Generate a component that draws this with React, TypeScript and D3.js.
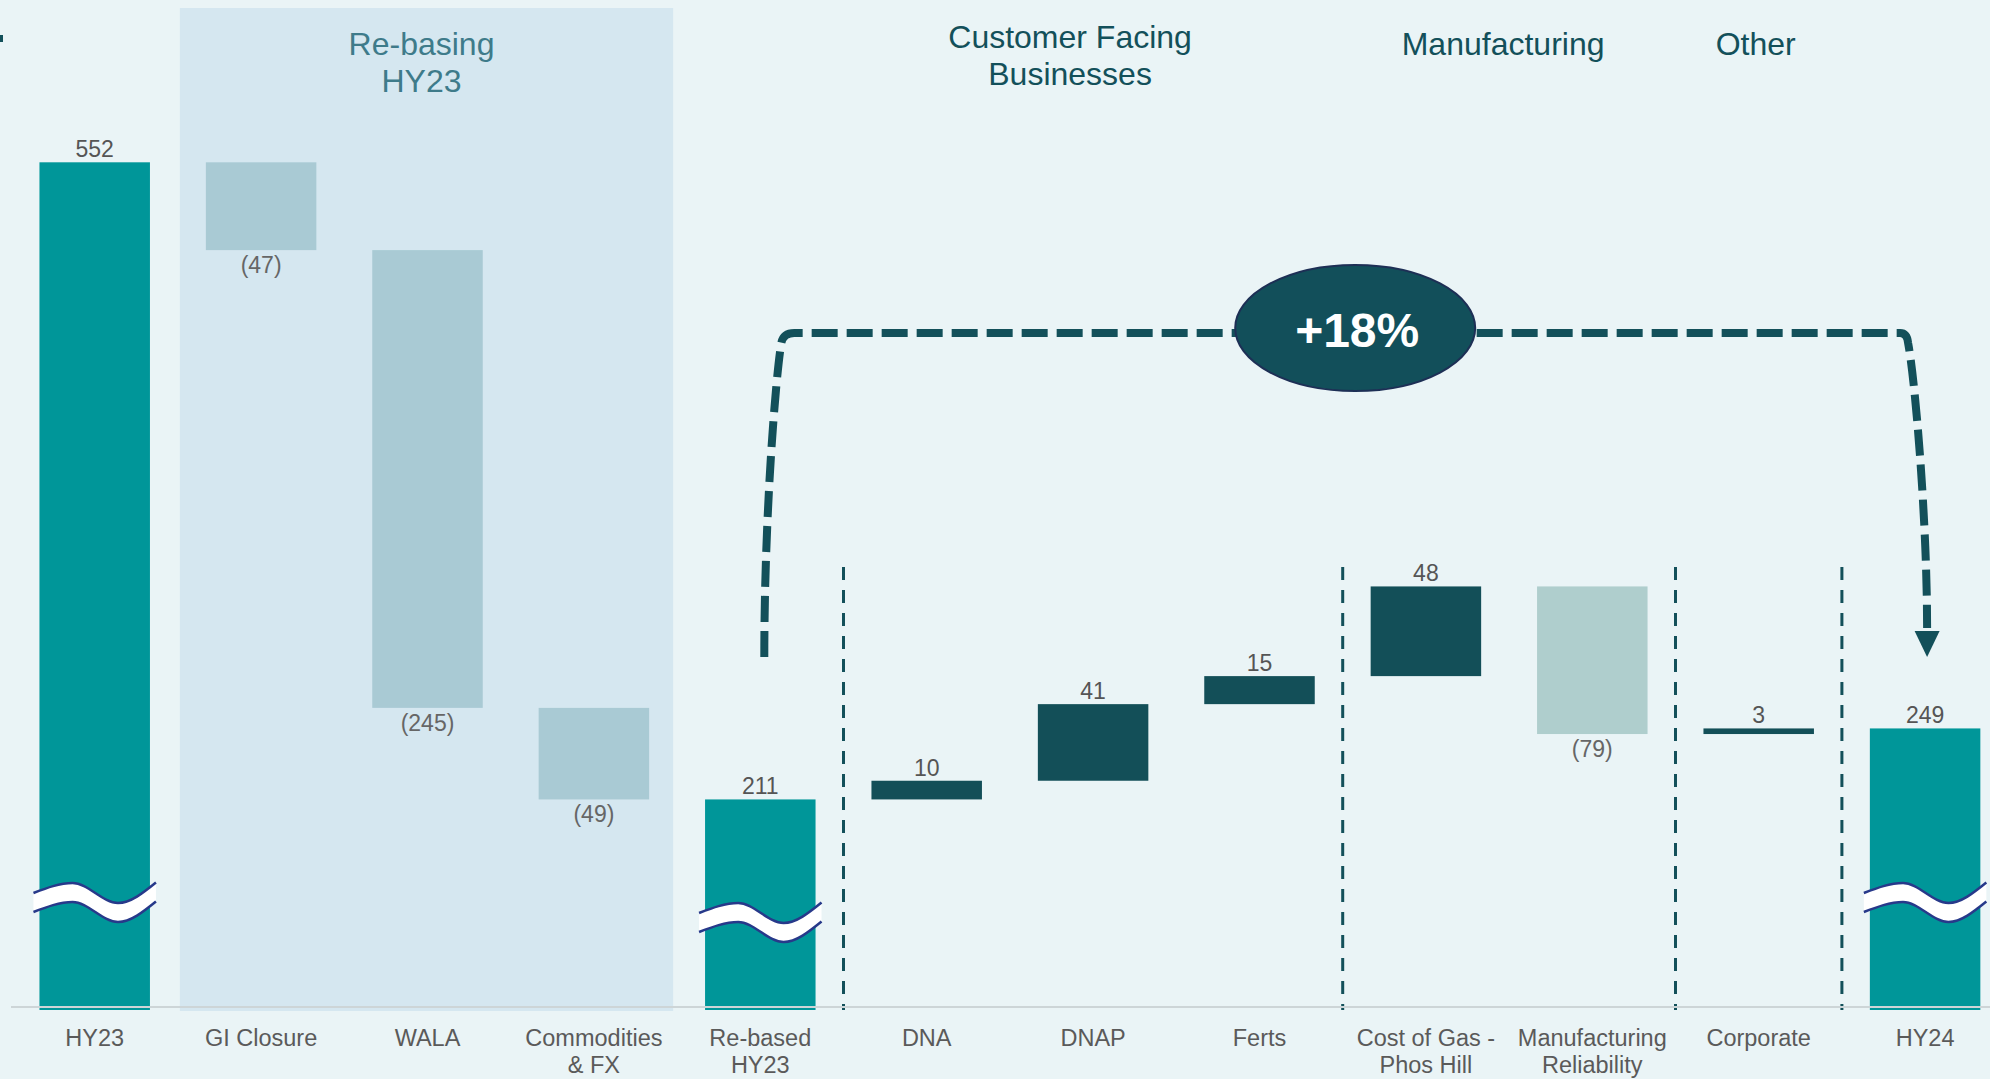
import React from "react";
import * as d3 from "d3";

// ---------- data ----------
const categories = [
  "HY23",
  "GI Closure",
  "WALA",
  "Commodities\n& FX",
  "Re-based\nHY23",
  "DNA",
  "DNAP",
  "Ferts",
  "Cost of Gas -\nPhos Hill",
  "Manufacturing\nReliability",
  "Corporate",
  "HY24",
];
const values = [552, -47, -245, -49, 211, 10, 41, 15, 48, -79, 3, 249];
const kinds = ["total", "rebase", "rebase", "rebase", "total", "pos", "pos", "pos", "pos", "neg", "pos", "total"];

const groupHeaders = ["Re-basing\nHY23", "Customer Facing\nBusinesses", "Manufacturing", "Other"];
const separatorsAfter = [4, 7, 9, 10]; // category index after which a dashed divider is drawn
const brokenBars = [0, 4, 11];

// ---------- layout ----------
const W = 1990;
const H = 1079;
const FONT = "'Liberation Sans', Arial, Helvetica, sans-serif";
const COLORS: Record<string, string> = {
  total: "#009699",
  rebase: "#A9CAD4",
  pos: "#134F58",
  neg: "#AFCECD",
};
const BG = "#EAF4F6";
const PANEL = "#D5E7F0";
const DARK = "#13505A";
const NAVY = "#27398A";

export default function App() {
  const x = d3
    .scaleBand<string>()
    .domain(categories)
    .range([11.5, 2008.3])
    .paddingInner(0.336)
    .paddingOuter(0.168);
  const y = d3.scaleLinear().domain([98.3, 552]).range([1010, 162.3]);
  const bw = x.bandwidth();
  const yBase = y(y.domain()[0]);

  // waterfall
  let running = 0;
  const bars = categories.map((c, i) => {
    const v = values[i];
    let start: number, end: number;
    if (kinds[i] === "total") {
      start = y.domain()[0];
      end = v;
      running = v;
    } else {
      start = running;
      end = running + v;
      running = end;
    }
    const top = y(Math.max(start, end));
    const bottom = kinds[i] === "total" ? yBase : y(Math.min(start, end));
    return { c, i, v, kind: kinds[i], x0: x(c) as number, top, bottom };
  });

  const cx = (i: number) => (x(categories[i]) as number) + bw / 2;
  const sepX = (i: number) => ((x(categories[i]) as number) + bw + (x(categories[i + 1]) as number)) / 2;

  // panel (re-basing)
  const panelL = (x(categories[1]) as number) - 26;
  const panelR = (x(categories[3]) as number) + bw + 24;

  // headers
  const headerX = [
    (panelL + panelR) / 2 - 5,
    (sepX(separatorsAfter[0]) + sepX(separatorsAfter[1])) / 2 - 23,
    (sepX(separatorsAfter[1]) + sepX(separatorsAfter[2])) / 2 - 6,
    (sepX(separatorsAfter[2]) + sepX(separatorsAfter[3])) / 2 - 3,
  ];
  const headerY0 = [55, 48, 55, 55];
  const headerColor = ["#3E7B8A", DARK, DARK, DARK];

  // squiggle (axis break marks)
  const squiggleRef = [883, 903, 883];
  const wave = d3
    .line<[number, number]>()
    .x((d) => d[0])
    .y((d) => d[1])
    .curve(d3.curveMonotoneX);
  const squiggles = brokenBars.map((bi, k) => {
    const x0 = (x(categories[bi]) as number) - 6;
    const w = bw + 12;
    const r = squiggleRef[k];
    const upper: [number, number][] = [
      [x0, r + 10],
      [x0 + w * 0.32, r],
      [x0 + w * 0.69, r + 20],
      [x0 + w, r - 0.5],
    ];
    const th = 19;
    const lower: [number, number][] = upper.map((p) => [p[0], p[1] + th]);
    const upperD = wave(upper) as string;
    const lowerD = wave(lower) as string;
    const lowerRev = wave(lower.slice().reverse()) as string;
    const fillD = upperD + "L" + lowerRev.slice(1) + "Z";
    return { key: bi, fillD, upperD, lowerD };
  });

  // bracket
  const iA = 4;
  const iB = 11;
  const lx = cx(iA) + 4;
  const rx = cx(iB) + 2;
  const topY = 333;
  const botY = 657;
  const bp = d3.path();
  bp.moveTo(lx, botY);
  bp.bezierCurveTo(lx, 520, lx + 11, 380, lx + 17, 343);
  bp.quadraticCurveTo(lx + 19, topY, lx + 30, topY);
  bp.lineTo(rx - 27, topY);
  bp.quadraticCurveTo(rx - 20, topY, rx - 19, 343);
  bp.bezierCurveTo(rx - 12, 380, rx, 520, rx, 628);
  const arrow = `M${rx - 12.5},631 L${rx + 12.5},631 L${rx},657 Z`;

  const pct = Math.round((values[iB] / values[iA] - 1) * 100);
  const ellX = (cx(iA) + cx(iB)) / 2 + 12.5;
  const ellY = 328;

  return (
    <svg
      width={W}
      height={H}
      style={{ position: "absolute", left: 0, top: 0, display: "block" }}
      fontFamily={FONT}
    >
      <rect x={0} y={0} width={W} height={H} fill={BG} />
      <rect x={0} y={35} width={3} height={7} fill={DARK} />
      <rect x={panelL} y={8} width={panelR - panelL} height={1011 - 8} fill={PANEL} />

      {/* headers */}
      {groupHeaders.map((h, k) =>
        h.split("\n").map((line, j) => (
          <text
            key={`${k}-${j}`}
            x={headerX[k]}
            y={headerY0[k] + j * 37}
            textAnchor="middle"
            fontSize={32}
            fill={headerColor[k]}
          >
            {line}
          </text>
        ))
      )}

      {/* separators */}
      {separatorsAfter.map((i) => (
        <line
          key={i}
          x1={sepX(i)}
          x2={sepX(i)}
          y1={567}
          y2={1010}
          stroke={DARK}
          strokeWidth={3}
          strokeDasharray="13 10"
        />
      ))}

      {/* bars */}
      {bars.map((b) => (
        <rect
          key={b.c}
          x={b.x0}
          y={b.top}
          width={bw}
          height={Math.max(1, b.bottom - b.top)}
          fill={COLORS[b.kind]}
        />
      ))}

      {/* axis line */}
      <line x1={11} x2={W} y1={1007} y2={1007} stroke="#CDD5D7" strokeWidth={2} />

      {/* squiggles */}
      {squiggles.map((s) => (
        <g key={s.key}>
          <path d={s.fillD} fill="#FFFFFF" />
          <path d={s.upperD} fill="none" stroke={NAVY} strokeWidth={2.5} />
          <path d={s.lowerD} fill="none" stroke={NAVY} strokeWidth={2.5} />
        </g>
      ))}

      {/* value labels */}
      {bars.map((b) =>
        b.v < 0 ? (
          <text key={b.c} x={cx(b.i)} y={b.bottom + 23} textAnchor="middle" fontSize={23} fill="#666666">
            {`(${Math.abs(b.v)})`}
          </text>
        ) : (
          <text key={b.c} x={cx(b.i)} y={b.top - 5} textAnchor="middle" fontSize={23} fill="#555555">
            {b.v}
          </text>
        )
      )}

      {/* x labels */}
      {categories.map((c, i) =>
        c.split("\n").map((line, j) => (
          <text
            key={`${c}-${j}`}
            x={cx(i)}
            y={1046 + j * 27}
            textAnchor="middle"
            fontSize={23.5}
            fill="#5A5A5A"
          >
            {line}
          </text>
        ))
      )}

      {/* bracket */}
      <path
        d={bp.toString()}
        fill="none"
        stroke={DARK}
        strokeWidth={8}
        strokeDasharray="26 9"
      />
      <path d={arrow} fill={DARK} />
      <ellipse cx={ellX} cy={ellY} rx={120} ry={63} fill="#124F5A" stroke="#1D2F55" strokeWidth={2} />
      <text x={ellX + 2} y={347} textAnchor="middle" fontSize={48} fontWeight="bold" fill="#FFFFFF">
        {`+${pct}%`}
      </text>
    </svg>
  );
}
